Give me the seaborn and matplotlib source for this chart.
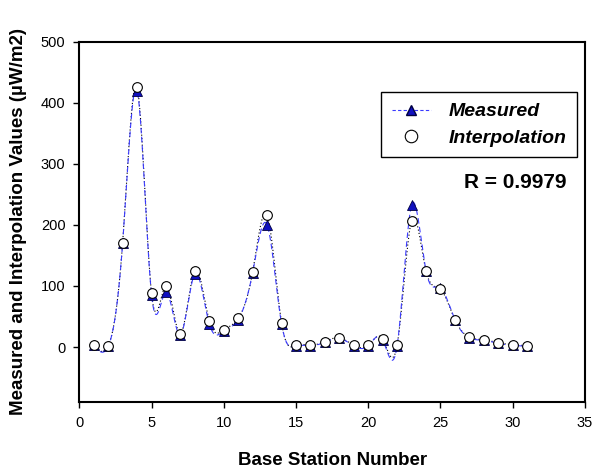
import numpy as np
import pandas as pd
import matplotlib
matplotlib.use("Agg")
import matplotlib.pyplot as plt
import seaborn as sns
from matplotlib.lines import Line2D

station = list(range(1, 32))
measured = [3, 1, 170, 420, 86, 90, 20, 120, 38, 26, 45, 122, 200, 38, 2, 2, 8, 14, 2, 2, 12, 2,
            232, 125, 97, 45, 15, 11, 6, 3, 1]
interpolation = [4, 2, 171, 426, 88, 100, 22, 125, 43, 28, 47, 123, 216, 40, 3, 3, 9, 15, 3, 3, 13, 3,
                 207, 125, 95, 45, 16, 12, 7, 4, 2]
x_ticks = [0, 5, 10, 15, 20, 25, 30, 35]
y_ticks = [0, 100, 200, 300, 400, 500]
r_text = "R = 0.9979"


def natural_spline(x, y, n=20):
    x = np.asarray(x, float)
    y = np.asarray(y, float)
    k = len(x)
    h = np.diff(x)
    A = np.zeros((k, k))
    b = np.zeros(k)
    A[0, 0] = 1
    A[-1, -1] = 1
    for i in range(1, k - 1):
        A[i, i - 1] = h[i - 1]
        A[i, i] = 2 * (h[i - 1] + h[i])
        A[i, i + 1] = h[i]
        b[i] = 3 * ((y[i + 1] - y[i]) / h[i] - (y[i] - y[i - 1]) / h[i - 1])
    c = np.linalg.solve(A, b)
    xs, ys = [], []
    for i in range(k - 1):
        bi = (y[i + 1] - y[i]) / h[i] - h[i] * (2 * c[i] + c[i + 1]) / 3
        di = (c[i + 1] - c[i]) / (3 * h[i])
        t = np.linspace(0, h[i], n, endpoint=(i == k - 2))
        xs.append(x[i] + t)
        ys.append(y[i] + bi * t + c[i] * t ** 2 + di * t ** 3)
    return np.concatenate(xs), np.concatenate(ys)


sns.set_style("ticks")
plt.rcParams['font.family'] = ['Liberation Sans', 'DejaVu Sans']
plt.rcParams['text.color'] = 'black'
plt.rcParams['axes.labelcolor'] = 'black'
plt.rcParams['xtick.color'] = 'black'
plt.rcParams['ytick.color'] = 'black'

fig = plt.figure(figsize=(6.03, 4.68), dpi=100)
ax = fig.add_axes([0.1315, 0.141, 0.8385, 0.770])

xm, ym = natural_spline(station, measured)
xi, yi = natural_spline(station, interpolation)
dfm = pd.DataFrame({"x": xm, "y": ym})
dfi = pd.DataFrame({"x": xi, "y": yi})
sns.lineplot(data=dfi, x="x", y="y", ax=ax, color="black", lw=0.8,
             linestyle=(0, (1, 2)), sort=False)
sns.lineplot(data=dfm, x="x", y="y", ax=ax, color="#3a3aff", lw=0.8,
             linestyle=(0, (5, 3)), sort=False)

pts = pd.DataFrame({"station": station, "measured": measured, "interp": interpolation})
ax.plot(pts["station"], pts["measured"], ls="none", marker="^", ms=6.5,
        mfc="#1010c0", mec="#000040", mew=0.6, zorder=4)
ax.plot(pts["station"], pts["interp"], ls="none", marker="o", ms=7,
        mfc="white", mec="black", mew=0.8, zorder=5)

ax.set_xlim(0, 35)
ax.set_ylim(-90, 500)
ax.set_xticks(x_ticks)
ax.set_yticks(y_ticks)
ax.tick_params(direction="out", length=4, width=1, labelsize=10.5, pad=6,
               colors="black", labelcolor="black")
for s in ax.spines.values():
    s.set_visible(True)
    s.set_linewidth(1.5)
    s.set_color("black")

ax.set_xlabel("Base Station Number", fontsize=13.5, fontweight="black", labelpad=16,
              color="black")
ax.set_ylabel("Measured and Interpolation Values (µW/m2)", fontsize=13.5, fontweight="black",
              labelpad=10, color="black")

handles = [Line2D([], [], color="#3a3aff", ls=(0, (3, 2)), lw=0.8, marker="^", ms=6.5,
                  mfc="#1010c0", mec="#000040"),
           Line2D([], [], ls="none", marker="o", ms=9, mfc="white", mec="black", mew=0.8)]
leg = ax.legend(handles, ["Measured", "Interpolation"], loc="upper left",
                bbox_to_anchor=(0.597, 0.86), frameon=True, fancybox=False, framealpha=1,
                prop={"size": 14, "weight": "bold", "style": "italic"},
                handlelength=2.0, borderpad=0.55, labelspacing=0.45, handletextpad=0.9,
                borderaxespad=0)
leg.get_frame().set_edgecolor("black")
leg.get_frame().set_linewidth(1.0)
for t in leg.get_texts():
    t.set_color("black")

ax.text(0.963, 0.608, r_text, transform=ax.transAxes, ha="right", va="center",
        fontsize=15, fontweight="bold", color="black")

fig.savefig("out.png", dpi=100)
